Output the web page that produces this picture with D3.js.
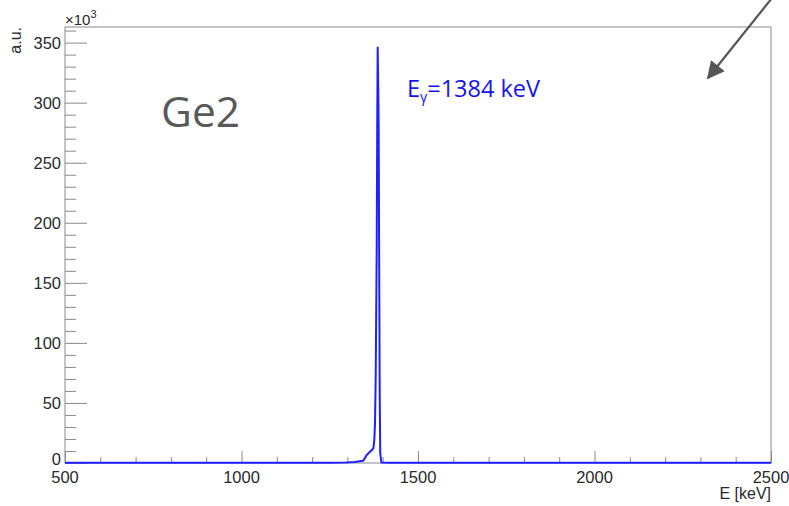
<!DOCTYPE html>
<html>
<head>
<meta charset="utf-8">
<script src="https://cdn.jsdelivr.net/npm/d3@7"></script>
<style>
  html, body { margin: 0; padding: 0; background: #fff; }
  svg { display: block; }
</style>
</head>
<body>
<svg id="chart" width="789" height="506"></svg>
<script>
// Ge2 detector spectrum around the 1384 keV gamma line
const energyKeV = [500, 700, 900, 1100, 1250, 1296, 1320, 1345, 1354.7, 1364, 1373.4, 1376.2, 1378.2, 1380.2, 1383, 1384.5, 1385.8, 1388.5, 1391.5, 1393, 1396.5, 1420, 1600, 1900, 2200, 2500];
const countsK  = [0.3, 0.3, 0.3, 0.3, 0.3, 0.4, 0.9, 1.9, 6.7, 9.4, 12, 19, 33, 72, 177, 280, 346, 285, 60, 8, 0.4, 0.2, 0.2, 0.2, 0.2, 0.2];

const xMajorTicks = [500, 1000, 1500, 2000, 2500];
const yMajorTicks = [0, 50, 100, 150, 200, 250, 300, 350];
const xDomain = [500, 2500];
const yDomain = [0, 363];

const peakLabel = "1384 keV";
const detectorName = "Ge2";

const svg = d3.select("#chart");
const frame = { left: 65, right: 771, top: 27, bottom: 463 };

const x = d3.scaleLinear().domain(xDomain).range([frame.left, frame.right]);
const y = d3.scaleLinear().domain(yDomain).range([frame.bottom, frame.top]);

const axisColor = "#8a8a8a";
const labelFont = "'Liberation Sans', Arial, Helvetica, sans-serif";

// frame
svg.append("rect")
  .attr("x", frame.left).attr("y", frame.top)
  .attr("width", frame.right - frame.left).attr("height", frame.bottom - frame.top)
  .attr("fill", "none").attr("stroke", axisColor).attr("stroke-width", 1);

// y ticks: major every 50, minor every 10 (drawn inward)
const yMinor = d3.range(0, 361, 10).filter(v => v % 50 !== 0);
const yAxisMajor = d3.axisRight(y).tickValues(yMajorTicks).tickSize(22).tickFormat("");
const yAxisMinor = d3.axisRight(y).tickValues(yMinor).tickSize(11).tickFormat("");
[yAxisMajor, yAxisMinor].forEach(ax => {
  const g = svg.append("g").attr("transform", `translate(${frame.left},0)`).call(ax);
  g.select(".domain").remove();
  g.selectAll("line").attr("stroke", axisColor).attr("stroke-width", 1);
});

// x ticks: major every 500, minor every 100 (drawn inward)
const xMinor = d3.range(600, 2500, 100).filter(v => v % 500 !== 0);
const xAxisMajor = d3.axisTop(x).tickValues(xMajorTicks).tickSize(12).tickFormat("");
const xAxisMinor = d3.axisTop(x).tickValues(xMinor).tickSize(6).tickFormat("");
[xAxisMajor, xAxisMinor].forEach(ax => {
  const g = svg.append("g").attr("transform", `translate(0,${frame.bottom})`).call(ax);
  g.select(".domain").remove();
  g.selectAll("line").attr("stroke", axisColor).attr("stroke-width", 1);
});

// tick labels (the zero label sits a little higher to clear the first x label)
svg.append("g").selectAll("text").data(yMajorTicks).join("text")
  .attr("x", frame.left - 4).attr("y", d => y(d) - (d === 0 ? 3.5 : 0)).attr("dy", "0.36em")
  .attr("text-anchor", "end")
  .attr("font-family", labelFont).attr("font-size", 16.5).attr("fill", "#2a2a2a")
  .text(d => d);

svg.append("g").selectAll("text").data(xMajorTicks).join("text")
  .attr("x", d => x(d)).attr("y", 483)
  .attr("text-anchor", "middle")
  .attr("font-family", labelFont).attr("font-size", 16.5).attr("fill", "#2a2a2a")
  .text(d => d);

// exponent marker
const expo = svg.append("text")
  .attr("x", frame.left).attr("y", 25)
  .attr("font-family", labelFont).attr("font-size", 15).attr("fill", "#2a2a2a");
expo.append("tspan").text("\u00d710");
expo.append("tspan").attr("dy", -7).attr("font-size", 11).text("3");

// axis titles
svg.append("text")
  .attr("transform", "translate(21,27) rotate(-90)")
  .attr("text-anchor", "end")
  .attr("font-family", labelFont).attr("font-size", 16).attr("fill", "#2a2a2a")
  .text("a.u.");

svg.append("text")
  .attr("x", frame.right).attr("y", 499)
  .attr("text-anchor", "end")
  .attr("font-family", labelFont).attr("font-size", 16).attr("fill", "#2a2a2a")
  .text("E [keV]");

// spectrum
const line = d3.line()
  .x((d, i) => x(energyKeV[i]))
  .y(d => y(d));

svg.append("path")
  .datum(countsK)
  .attr("d", line)
  .attr("fill", "none")
  .attr("stroke", "#2020ff")
  .attr("stroke-width", 2)
  .attr("stroke-linejoin", "round");

// detector name
svg.append("text")
  .attr("x", 161).attr("y", 127)
  .attr("font-family", "'Open Sans', 'Noto Sans', sans-serif")
  .attr("font-size", 42.5).attr("fill", "#595959")
  .text(detectorName);

// peak annotation
const ann = svg.append("text")
  .attr("x", 407).attr("y", 97)
  .attr("font-family", "'Open Sans', 'Noto Sans', sans-serif")
  .attr("font-size", 23.5).attr("fill", "#1414f0");
ann.append("tspan").text("E");
ann.append("tspan").attr("dy", 5).attr("font-size", 14).text("\u03b3");
ann.append("tspan").attr("dy", -5).text("=" + peakLabel);

// pointer arrow
const defs = svg.append("defs");
defs.append("marker")
  .attr("id", "arrowhead")
  .attr("viewBox", "0 0 10 10")
  .attr("refX", 9).attr("refY", 5)
  .attr("markerWidth", 10).attr("markerHeight", 8)
  .attr("markerUnits", "strokeWidth")
  .attr("orient", "auto")
  .append("path").attr("d", "M0,0 L10,5 L0,10 Z").attr("fill", "#555");

svg.append("line")
  .attr("x1", 772).attr("y1", -2)
  .attr("x2", 708).attr("y2", 78)
  .attr("stroke", "#555").attr("stroke-width", 2.2)
  .attr("marker-end", "url(#arrowhead)");
</script>
</body>
</html>
